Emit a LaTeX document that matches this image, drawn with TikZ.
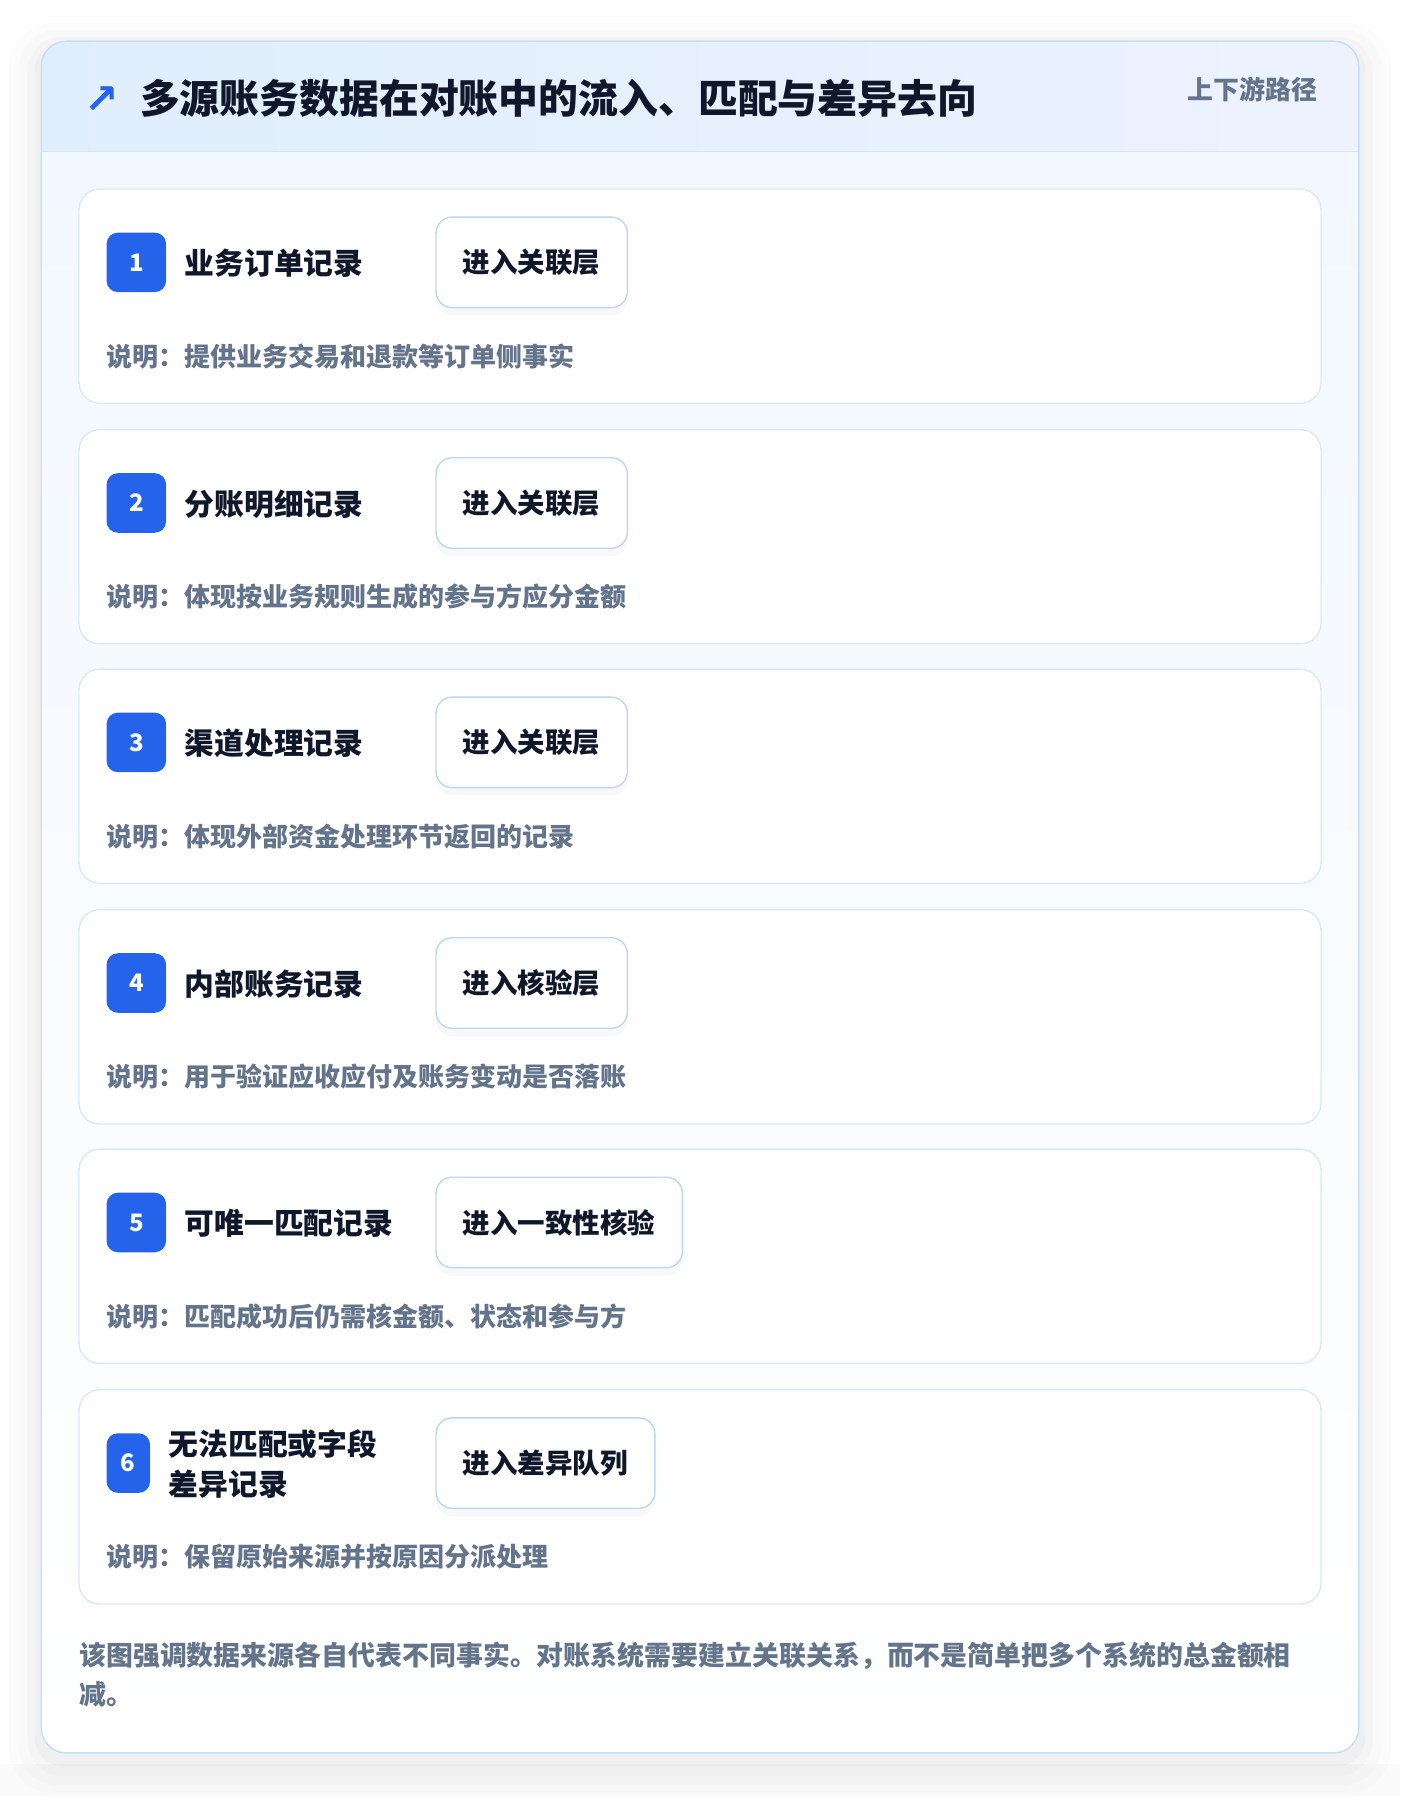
\documentclass[tikz,border=0pt]{standalone}
\usepackage{fontspec}
\setmainfont{Noto Sans CJK SC}
\newfontfamily\symfont{DejaVu Sans}
\usetikzlibrary{calc,shadows}

\definecolor{inkdark}{HTML}{0F172A}
\definecolor{inkgray}{HTML}{64748B}
\definecolor{badgeblue}{HTML}{2563EB}
\definecolor{cardline}{HTML}{C3E1F6}
\definecolor{rowline}{HTML}{DCE8F6}
\definecolor{btnline}{HTML}{BCD6F6}
\definecolor{headl}{HTML}{DFEEFD}
\definecolor{headr}{HTML}{EDF2FE}
\definecolor{headsep}{HTML}{D5E5F8}
\definecolor{bodytop}{HTML}{F2F8FF}

\tikzset{
  rowcard/.style={draw=rowline, line width=1.2pt, fill=white, rounded corners=18pt},
  badge/.style={fill=badgeblue, rounded corners=10pt, text=white, font=\bfseries\fontsize{21}{21}\selectfont, minimum height=52pt, minimum width=52pt, inner sep=0pt},
  stepname/.style={anchor=west, text=inkdark, font=\bfseries\fontsize{26}{35}\selectfont, align=left, inner sep=0pt},
  gobox/.style={draw=btnline, line width=1.2pt, fill=white, rounded corners=14pt, text=inkdark, font=\bfseries\fontsize{24}{24}\selectfont, minimum height=79pt, anchor=west, inner xsep=23.5pt, inner ysep=0pt, drop shadow={opacity=0.05, shadow xshift=0pt, shadow yshift=-7pt}},
  note/.style={anchor=west, text=inkgray, font=\bfseries\fontsize{22.7}{22.7}\selectfont, inner sep=0pt}
}

\begin{document}
\begin{tikzpicture}[x=1pt,y=-1pt]
\useasboundingbox (0,0) rectangle (1222,1567.6);
\fill[white!98!black] (0,0) rectangle (1222,1567.6);
\fill[white] (0,0) rectangle (1222,1540);
% soft shadow round the card
\fill[black, opacity=0.012, rounded corners=40pt] (8,20) rectangle (1214,1566);
\fill[black, opacity=0.012, rounded corners=34pt] (16,26) rectangle (1206,1558);
\fill[black, opacity=0.015, rounded corners=30pt] (24,32) rectangle (1198,1550);
\fill[black, opacity=0.018, rounded corners=26pt] (30,36) rectangle (1192,1542);

% outer card
\coordinate (cardtl) at (36,36);
\coordinate (cardbr) at (1186,1530);
\begin{scope}
\clip[rounded corners=22pt] (cardtl) rectangle (cardbr);
\shade[top color=bodytop, bottom color=white] (36,132) rectangle (1186,1530);
\shade[left color=headl, right color=headr] (36,36) rectangle (1186,132);
\draw[headsep, line width=1.2pt] (36,132) -- (1186,132);
\end{scope}
\draw[cardline, line width=1.3pt, rounded corners=22pt] (cardtl) rectangle (cardbr);

% header
\node[text=badgeblue, font=\symfont\bfseries\fontsize{36}{36}\selectfont, inner sep=0pt] (icon) at (89,87) {↗};
\node[anchor=west, text=inkdark, font=\bfseries\fontsize{34.8}{34.8}\selectfont, inner sep=0pt] (title) at (122,86) {多源账务数据在对账中的流入、匹配与差异去向};
\node[anchor=east, text=inkgray, font=\bfseries\fontsize{22.6}{22.6}\selectfont, inner sep=0pt] (tag) at (1150,78) {上下游路径};

% row 1
\coordinate (r1) at (69,165);
\draw[rowcard] (r1) rectangle ++(1084,187);
\node[badge] (b1) at ($(r1)+(50,64)$) {1};
\node[stepname] (n1) at ($(r1)+(92,65)$) {业务订单记录};
\node[gobox] (g1) at ($(r1)+(311,64)$) {进入关联层};
\node[note] (d1) at ($(r1)+(24,146)$) {说明：提供业务交易和退款等订单侧事实};

% row 2
\coordinate (r2) at (69,375);
\draw[rowcard] (r2) rectangle ++(1084,187);
\node[badge] (b2) at ($(r2)+(50,64)$) {2};
\node[stepname] (n2) at ($(r2)+(92,65)$) {分账明细记录};
\node[gobox] (g2) at ($(r2)+(311,64)$) {进入关联层};
\node[note] (d2) at ($(r2)+(24,146)$) {说明：体现按业务规则生成的参与方应分金额};

% row 3
\coordinate (r3) at (69,584);
\draw[rowcard] (r3) rectangle ++(1084,187);
\node[badge] (b3) at ($(r3)+(50,64)$) {3};
\node[stepname] (n3) at ($(r3)+(92,65)$) {渠道处理记录};
\node[gobox] (g3) at ($(r3)+(311,64)$) {进入关联层};
\node[note] (d3) at ($(r3)+(24,146)$) {说明：体现外部资金处理环节返回的记录};

% row 4
\coordinate (r4) at (69,794);
\draw[rowcard] (r4) rectangle ++(1084,187);
\node[badge] (b4) at ($(r4)+(50,64)$) {4};
\node[stepname] (n4) at ($(r4)+(92,65)$) {内部账务记录};
\node[gobox] (g4) at ($(r4)+(311,64)$) {进入核验层};
\node[note] (d4) at ($(r4)+(24,146)$) {说明：用于验证应收应付及账务变动是否落账};

% row 5
\coordinate (r5) at (69,1003);
\draw[rowcard] (r5) rectangle ++(1084,187);
\node[badge] (b5) at ($(r5)+(50,64)$) {5};
\node[stepname] (n5) at ($(r5)+(92,65)$) {可唯一匹配记录};
\node[gobox] (g5) at ($(r5)+(311,64)$) {进入一致性核验};
\node[note] (d5) at ($(r5)+(24,146)$) {说明：匹配成功后仍需核金额、状态和参与方};

% row 6
\coordinate (r6) at (69,1213);
\draw[rowcard] (r6) rectangle ++(1084,187);
\node[badge, minimum width=38pt] (b6) at ($(r6)+(43,64)$) {6};
\node[stepname] (n6) at ($(r6)+(78,65)$) {无法匹配或字段\\差异记录};
\node[gobox] (g6) at ($(r6)+(311,64)$) {进入差异队列};
\node[note] (d6) at ($(r6)+(24,146)$) {说明：保留原始来源并按原因分派处理};

% footer
\node[note, font=\bfseries\fontsize{23.5}{23.5}\selectfont] (foot1) at (69,1445) {该图强调数据来源各自代表不同事实。对账系统需要建立关联关系，而不是简单把多个系统的总金额相};
\node[note, font=\bfseries\fontsize{23.5}{23.5}\selectfont] (foot2) at (69,1479) {减。};
\end{tikzpicture}
\end{document}
